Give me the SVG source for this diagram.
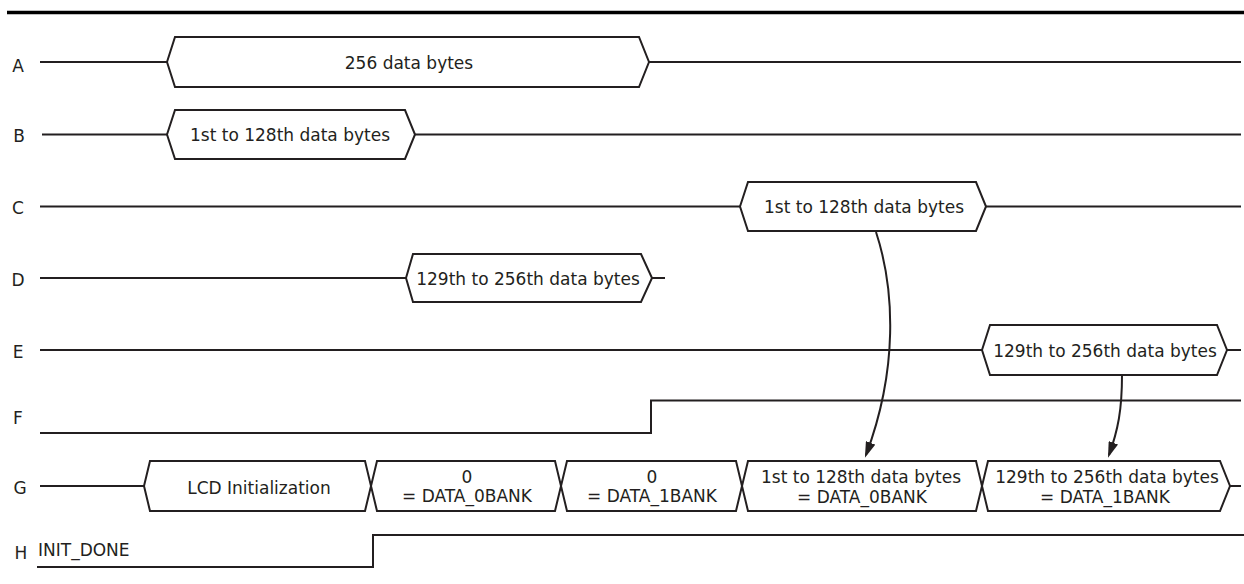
<svg xmlns="http://www.w3.org/2000/svg" width="1244" height="584" viewBox="0 0 1244 584">
<style>
.w{fill:none;stroke:#231f20;stroke-width:2}
.bus{fill:#fff;stroke:#231f20;stroke-width:2;stroke-linejoin:miter}
.t{font-family:"DejaVu Sans",sans-serif;font-size:17px;fill:#231f20;text-anchor:middle}
.lbl{font-family:"DejaVu Sans",sans-serif;font-size:17px;fill:#231f20;text-anchor:middle}
.arr{fill:none;stroke:#231f20;stroke-width:2}
</style>
<defs>
<marker id="ah" viewBox="0 0 16 10" refX="13" refY="5" markerWidth="16" markerHeight="10" orient="auto" markerUnits="userSpaceOnUse">
<path d="M0,0 L16,5 L0,10 Z" fill="#231f20"/>
</marker>
</defs>
<rect x="0" y="0" width="1244" height="584" fill="#fff"/>
<line x1="7" y1="12.5" x2="1244" y2="12.5" stroke="#000" stroke-width="3.5"/>

<g id="row-A">
<text class="lbl" x="18" y="72">A</text>
<path class="w" d="M40,62 H167 M649,62 H1241"/>
<polygon class="bus" points="167,62 175,37 639,37 649,62 639,87 175,87"/>
<text class="t" x="409" y="68.5">256 data bytes</text>
</g>

<g id="row-B">
<text class="lbl" x="19" y="142">B</text>
<path class="w" d="M42,134.5 H167 M415,134.5 H1241"/>
<polygon class="bus" points="167,134.5 175,110 405,110 415,134.5 405,159 175,159"/>
<text class="t" x="290" y="141">1st to 128th data bytes</text>
</g>

<g id="row-C">
<text class="lbl" x="18" y="214">C</text>
<path class="w" d="M40,206.5 H740 M986,206.5 H1241"/>
<polygon class="bus" points="740,206.5 748,182 976,182 986,206.5 976,231 748,231"/>
<text class="t" x="864" y="213">1st to 128th data bytes</text>
</g>

<g id="row-D">
<text class="lbl" x="18" y="286">D</text>
<path class="w" d="M40,278 H406 M652,278 H665"/>
<polygon class="bus" points="406,278 413,254 641,254 652,278 641,302 413,302"/>
<text class="t" x="528" y="285">129th to 256th data bytes</text>
</g>

<g id="row-E">
<text class="lbl" x="18" y="358">E</text>
<path class="w" d="M40,350 H982 M1227,350 H1241"/>
<polygon class="bus" points="982,350 990,325 1217,325 1227,350 1217,375 990,375"/>
<text class="t" x="1105" y="357">129th to 256th data bytes</text>
</g>

<g id="row-F">
<text class="lbl" x="18" y="424">F</text>
<path class="w" d="M40,433 H651 V400.5 H1241"/>
</g>

<g id="row-G">
<text class="lbl" x="20" y="494">G</text>
<path class="w" d="M40,486 H144 M1230,486 H1241"/>
<g id="g-lcd">
<polygon class="bus" points="144,486 150,461 365,461 371,486 365,511 150,511"/>
<text class="t" x="259" y="494">LCD Initialization</text>
</g>
<g id="g-bank0">
<polygon class="bus" points="371,486 377,461 555,461 561,486 555,511 377,511"/>
<text class="t" x="467" y="482.5">0</text>
<text class="t" x="467" y="501.5">= DATA_0BANK</text>
</g>
<g id="g-bank1">
<polygon class="bus" points="561,486 567,461 736,461 742,486 736,511 567,511"/>
<text class="t" x="652" y="482.5">0</text>
<text class="t" x="652" y="501.5">= DATA_1BANK</text>
</g>
<g id="g-data0">
<polygon class="bus" points="742,486 748,461 976,461 982,486 976,511 748,511"/>
<text class="t" x="861" y="483">1st to 128th data bytes</text>
<text class="t" x="862" y="502.5">= DATA_0BANK</text>
</g>
<g id="g-data1">
<polygon class="bus" points="982,486 988,461 1220,461 1230,486 1220,511 988,511"/>
<text class="t" x="1107" y="483">129th to 256th data bytes</text>
<text class="t" x="1105" y="502.5">= DATA_1BANK</text>
</g>
</g>

<g id="row-H">
<text class="lbl" x="21" y="559">H</text>
<text class="t" x="38" y="556" style="text-anchor:start">INIT_DONE</text>
<path class="w" d="M37,567 H373 V535 H1244"/>
</g>

<g id="connectors">
<path class="arr" d="M876,232 C895,290 898,370 866,455" marker-end="url(#ah)"/>
<path class="arr" d="M1122,375 C1122,410 1118,430 1109,455" marker-end="url(#ah)"/>
</g>
</svg>
